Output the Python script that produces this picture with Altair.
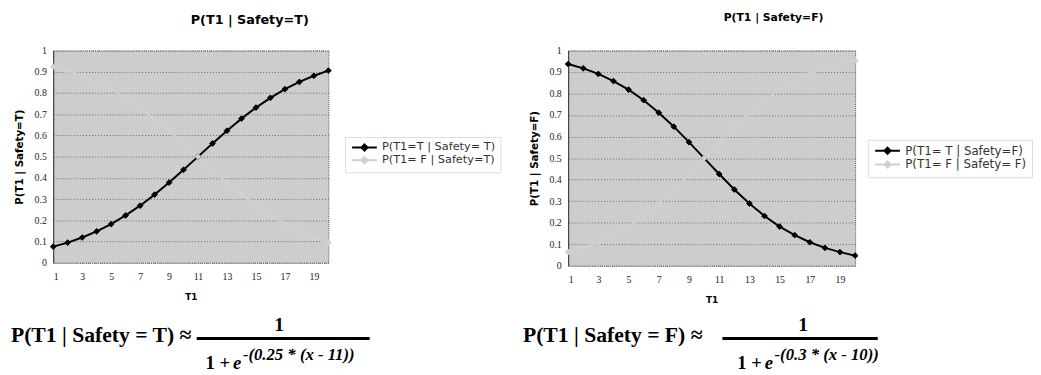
import altair as alt
import pandas as pd

# ---- data ----
t1_values = list(range(1, 21))

left_names = ["P(T1=T | Safety= T)", "P(T1= F | Safety=T)"]
left_t = [0.076, 0.095, 0.119, 0.148, 0.182, 0.223, 0.269, 0.321, 0.378, 0.438,
          0.500, 0.562, 0.622, 0.679, 0.731, 0.777, 0.818, 0.852, 0.881, 0.905]
left_f = [0.924, 0.905, 0.881, 0.852, 0.818, 0.777, 0.731, 0.679, 0.622, 0.562,
          0.500, 0.438, 0.378, 0.321, 0.269, 0.223, 0.182, 0.148, 0.119, 0.095]

right_names = ["P(T1= T | Safety=F)", "P(T1= F | Safety= F)"]
right_t = [0.937, 0.917, 0.891, 0.858, 0.818, 0.769, 0.711, 0.646, 0.574, 0.500,
           0.426, 0.354, 0.289, 0.231, 0.182, 0.142, 0.109, 0.083, 0.063, 0.047]
right_f = [0.063, 0.083, 0.109, 0.142, 0.182, 0.231, 0.289, 0.354, 0.426, 0.500,
           0.574, 0.646, 0.711, 0.769, 0.818, 0.858, 0.891, 0.917, 0.937, 0.953]

x_ticks = [1, 3, 5, 7, 9, 11, 13, 15, 17, 19]
y_ticks = [0, 0.1, 0.2, 0.3, 0.4, 0.5, 0.6, 0.7, 0.8, 0.9, 1]

left_formula = ["P(T1 | Safety = T) \u2248", "1", "1 +", "e", "-(0.25 * (x - 11))"]
right_formula = ["P(T1 | Safety = F) \u2248", "1", "1 +", "e", "-(0.3 * (x - 10))"]

SERIES_COLORS = ["#000000", "#d0d0d0"]
SYM = "M-3.6,0L3.6,0M0,-0.9L0.9,0L0,0.9L-0.9,0Z"
SERIF = "Liberation Serif"
SANS = "DejaVu Sans"


def text_layer(txt, x, y, size, italic=False, align="left"):
    return alt.Chart(pd.DataFrame({"t": [txt]})).mark_text(
        font=SERIF, fontSize=size, fontWeight="bold",
        fontStyle="italic" if italic else "normal",
        align=align, baseline="alphabetic", color="#000000",
    ).encode(text="t:N", x=alt.value(x), y=alt.value(y))


def panel(xs, s1, s2, names, title, title_size, ytitle, w, h, tdx, toff,
          lx, ly, leg_size, formula, fp):
    df = pd.DataFrame({
        "T1": xs + xs,
        "P": s1 + s2,
        "series": [names[0]] * len(xs) + [names[1]] * len(xs),
    })
    leg = alt.Legend(
        title=None, orient="none", legendX=lx, legendY=ly,
        symbolType=SYM, symbolSize=49, symbolStrokeWidth=2,
        symbolOffset=9, labelOffset=12,
        labelFont=SANS, labelFontSize=leg_size, labelColor="#333333",
        rowPadding=-8, padding=5, strokeColor="#dddddd",
    )
    sc = alt.Scale(domain=names, range=SERIES_COLORS)
    base = alt.Chart(df).encode(
        x=alt.X("T1:Q", scale=alt.Scale(domain=[1, 20], nice=False, zero=False),
                axis=alt.Axis(values=x_ticks, title="T1", grid=False, ticks=False,
                              domain=False, labelFont=SERIF, labelFontSize=10,
                              labelColor="#222222", labelPadding=9,
                              titleFont=SANS, titleFontSize=9, titleFontWeight="bold",
                              titleColor="#000000", titlePadding=11)),
        y=alt.Y("P:Q", scale=alt.Scale(domain=[0, 1], nice=False),
                axis=alt.Axis(values=y_ticks, format=".1~f", title=ytitle,
                              grid=True, gridColor="#666666", gridDash=[1, 2],
                              gridWidth=1, ticks=False, domain=True,
                              domainColor="#333333", labelFont=SERIF,
                              labelFontSize=10, labelColor="#222222",
                              labelPadding=7, titleFont=SANS, titleFontSize=10.5,
                              titleFontWeight="bold", titleColor="#000000",
                              titlePadding=10)),
    )
    line = base.mark_line(strokeWidth=2).encode(
        stroke=alt.Stroke("series:N", scale=sc, legend=leg, sort=names))
    pts = base.mark_point(shape="diamond", filled=True, size=34, strokeWidth=1,
                          opacity=1).encode(
        fill=alt.Fill("series:N", scale=sc, legend=leg, sort=names),
        stroke=alt.Stroke("series:N", scale=sc, legend=leg, sort=names))
    (mx, my), (nx, ny), (bx0, bx1, by), (dx_, ex_, dy_), (ex, ey) = fp
    bar = alt.Chart(pd.DataFrame({"a": [0]})).mark_rule(
        color="#000000", strokeWidth=3).encode(
        x=alt.value(bx0), x2=alt.value(bx1), y=alt.value(by))
    layers = [
        line, pts, bar,
        text_layer(formula[0], mx, my, 22),
        text_layer(formula[1], nx, ny, 20, align="center"),
        text_layer(formula[2], dx_, dy_, 19),
        text_layer(formula[3], ex_, dy_, 19, italic=True),
        text_layer(formula[4], ex, ey, 17, italic=True),
    ]
    return alt.layer(*layers).properties(
        width=w, height=h,
        title=alt.TitleParams(title, font=SANS, fontSize=title_size,
                              fontWeight="bold", color="#000000", dx=tdx,
                              offset=toff, anchor="middle"),
    )


left = panel(t1_values, left_t, left_f, left_names, "P(T1 | Safety=T)", 13,
             "P(T1 | Safety=T)", 280, 216, 60, 19, 297, 88, 11.5, left_formula,
             ((-43, 297), (230, 285), (146, 322, 293), (155, 183, 324), (193, 315)))
right = panel(t1_values, right_t, right_f, right_names, "P(T1 | Safety=F)", 11,
              "P(T1 | Safety=F)", 292, 219, 63, 23, 305, 91, 12, right_formula,
              ((-46, 297), (239, 285), (157, 315, 293), (172, 200, 324), (210, 315)))

chart = alt.hconcat(left, right, spacing=21).resolve_scale(
    stroke="independent", fill="independent"
).resolve_legend(stroke="independent", fill="independent").properties(
    padding={"left": 2, "top": 0, "right": 0, "bottom": 0}
).configure_view(
    fill="#cdcdcd", stroke="#555555", strokeDash=[1, 1], strokeWidth=1
)

chart.save("out.html", embed_options={"renderer": "svg", "actions": False})
